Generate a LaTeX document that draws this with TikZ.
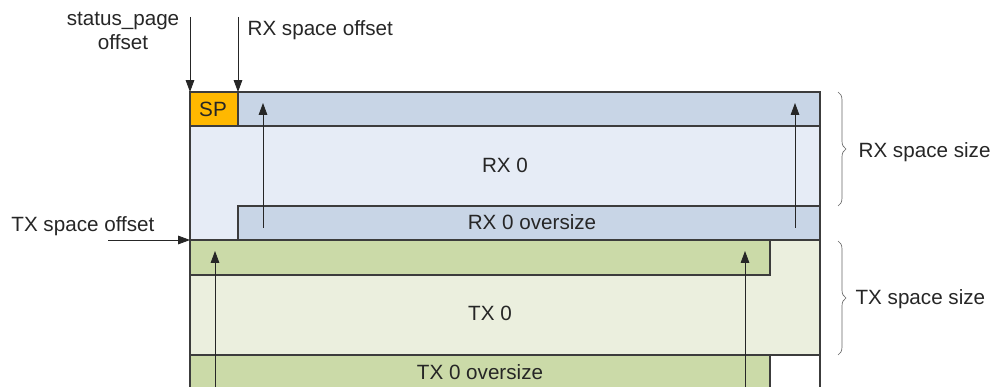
\documentclass[tikz,border=0pt]{standalone}
\usepackage{fontspec}
\setmainfont{Liberation Sans}
\usetikzlibrary{arrows.meta,decorations.pathreplacing}

\definecolor{spcol}{HTML}{FFB800}
\definecolor{rxdark}{HTML}{C8D5E6}
\definecolor{rxlight}{HTML}{E6ECF6}
\definecolor{txdark}{HTML}{CBDAA8}
\definecolor{txlight}{HTML}{EBEFDE}
\definecolor{edge}{HTML}{3C3C3C}

\tikzset{
  area/.style={draw=edge, line width=0.8pt},
  lbl/.style={font=\fontsize{15.5}{18}\selectfont, text=black!85, inner sep=1pt},
  ptr/.style={-{Triangle[length=9pt,width=6.5pt]}, line width=0.6pt, draw=black!85},
  sizebrace/.style={decorate, decoration={brace, amplitude=6pt}, draw=black!60, line width=0.5pt}
}

\begin{document}
\begin{tikzpicture}[x=0.0264cm, y=-0.0264cm]
            \useasboundingbox (0,0) rectangle (992,387);
            \clip (0,0) rectangle (992,387);
            % RX space
            \filldraw [area, fill=rxlight] (190,92) rectangle (820,240);
            \filldraw [area, fill=rxdark] (238,92) rectangle (820,126);
            \filldraw [area, fill=spcol] (190,92) rectangle (238,126);
            \filldraw [area, fill=rxdark] (238,206) rectangle (820,240);
            % TX space
            \filldraw [area, fill=txlight] (190,240) rectangle (820,355);
            \filldraw [area, fill=txdark] (190,240) rectangle (770,275);
            \filldraw [area, fill=txdark] (190,355) rectangle (770,400);
            \draw [area] (820,355) -- (820,400);

            \node [lbl] (sp) at (213,109) {SP};
            \node [lbl] (rx0) at (505,165) {RX 0};
            \node [lbl] (rxover) at (532,222) {RX 0 oversize};
            \node [lbl] (tx0) at (490,313) {TX 0};
            \node [lbl] (txover) at (480,372) {TX 0 oversize};

            % wrap-around pointers
            \coordinate (rxa0) at (263,228); \coordinate (rxa1) at (263,103);
            \coordinate (rxb0) at (795,228); \coordinate (rxb1) at (795,103);
            \coordinate (txa0) at (215,395); \coordinate (txa1) at (215,251);
            \coordinate (txb0) at (745,395); \coordinate (txb1) at (745,251);
            \draw [ptr] (rxa0) -- (rxa1);
            \draw [ptr] (rxb0) -- (rxb1);
            \draw [ptr] (txa0) -- (txa1);
            \draw [ptr] (txb0) -- (txb1);

            % offsets
            \node [lbl, align=center] (spoff) at (123,31) {status\_page\\offset};
            \node [lbl, anchor=west] (rxoff) at (246,30) {RX space offset};
            \node [lbl, anchor=east] (txoff) at (156,226) {TX space offset};
            \coordinate (sp0) at (190,17); \coordinate (sp1) at (190,92);
            \coordinate (rx0s) at (238,17); \coordinate (rx0e) at (238,92);
            \coordinate (tx0s) at (108,240); \coordinate (tx0e) at (190,240);
            \draw [ptr] (sp0) -- (sp1);
            \draw [ptr] (rx0s) -- (rx0e);
            \draw [ptr] (tx0s) -- (tx0e);

            % sizes
            \coordinate (rxt) at (838,92); \coordinate (rxb) at (838,206);
            \coordinate (txt) at (838,241); \coordinate (txb) at (838,355);
            \draw [sizebrace] (rxt) -- (rxb);
            \draw [sizebrace] (txt) -- (txb);
            \node [lbl, anchor=west] (rxsize) at (857,152) {RX space size};
            \node [lbl, anchor=west] (txsize) at (854,299) {TX space size};
        \end{tikzpicture}
\end{document}
